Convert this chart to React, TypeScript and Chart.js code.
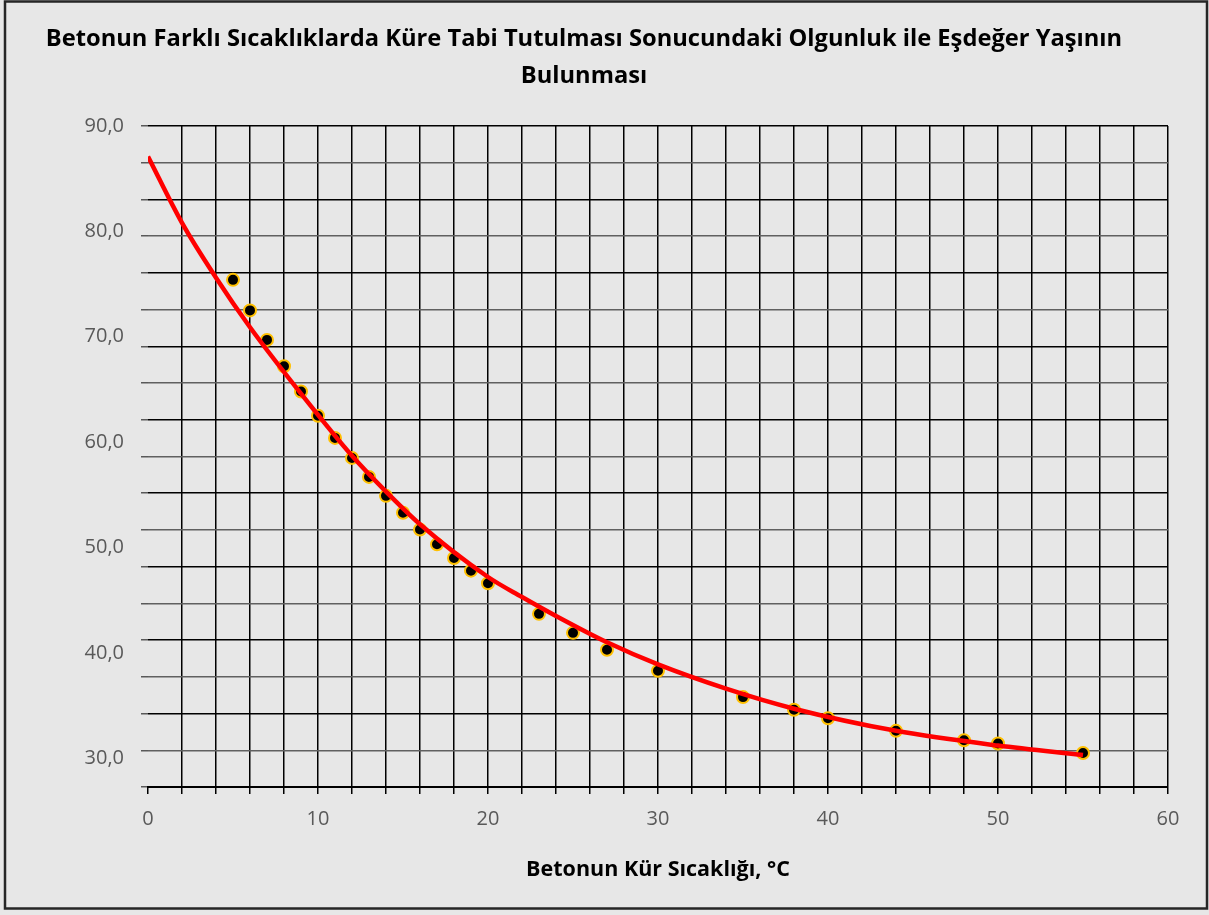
import React, { useEffect, useRef } from "react";
import { Chart, registerables } from "chart.js";

Chart.register(...registerables);

// Measured points (x: curing temperature °C, y: equivalent age / maturity)
const pointTemps = [5, 6, 7, 8, 9, 10, 11, 12, 13, 14, 15, 16, 17, 18, 19, 20, 23, 25, 27, 30, 35, 38, 40, 44, 48, 50, 55];
const pointValues = [75.4, 72.5, 69.7, 67.2, 64.8, 62.5, 60.4, 58.5, 56.7, 54.9, 53.3, 51.7, 50.3, 49.0, 47.8, 46.6, 43.7, 41.9, 40.3, 38.3, 35.8, 34.6, 33.8, 32.6, 31.7, 31.4, 30.5];

// Trend line
const trendTemps = [0, 2, 4, 6, 9, 12, 14, 16, 20, 22, 24, 27, 30, 34, 38, 44, 50, 55];
const trendValues = [87.1, 80.8, 75.6, 70.9, 64.6, 58.7, 55.3, 52.2, 47.2, 45.3, 43.5, 41.0, 38.9, 36.6, 34.7, 32.6, 31.2, 30.3];

// Axis labels
const yTickLabels = [30, 40, 50, 60, 70, 80, 90];
const xTickLabels = [0, 10, 20, 30, 40, 50, 60];

const titleLines = [
  "Betonun Farklı Sıcaklıklarda Küre Tabi Tutulması Sonucundaki Olgunluk ile Eşdeğer Yaşının",
  "Bulunması",
];
const xTitle = "Betonun Kür Sıcaklığı, °C";

const Y_MIN = 27.27;
const Y_MAX = 90;
const Y_GRID_INTERVALS = 18;
const FONT = "'Open Sans', 'Noto Sans', sans-serif";

const backgroundPlugin = {
  id: "bgBorder",
  beforeDraw(chart: any) {
    const { ctx, width, height } = chart;
    ctx.save();
    ctx.fillStyle = "#e7e7e7";
    ctx.fillRect(0, 0, width, height);
    ctx.strokeStyle = "#262626";
    ctx.lineWidth = 2.5;
    ctx.strokeRect(5, 1.5, width - 7, height - 8);
    ctx.restore();
  },
};

export default function App() {
  const ref = useRef<HTMLCanvasElement | null>(null);

  useEffect(() => {
    document.body.style.margin = "0";
    const canvas = ref.current!;
    const step = (Y_MAX - Y_MIN) / Y_GRID_INTERVALS;

    const chart = new Chart(canvas, {
      type: "scatter",
      data: {
        datasets: [
          {
            type: "line",
            label: "Trend",
            data: trendTemps.map((x, i) => ({ x, y: trendValues[i] })),
            borderColor: "#ff0000",
            borderWidth: 4.5,
            pointRadius: 0,
            fill: false,
            cubicInterpolationMode: "monotone",
            order: 1,
          } as any,
          {
            type: "scatter",
            label: "Veri",
            data: pointTemps.map((x, i) => ({ x, y: pointValues[i] })),
            pointRadius: 6,
            pointBackgroundColor: "#000000",
            pointBorderColor: "#ffc000",
            pointBorderWidth: 2,
            showLine: false,
            order: 2,
          } as any,
        ],
      },
      options: {
        animation: false,
        responsive: false,
        devicePixelRatio: 1,
        layout: { padding: { left: 0, right: 41, top: 0, bottom: 0 } },
        plugins: {
          legend: { display: false },
          tooltip: { enabled: false },
          title: {
            display: true,
            text: titleLines,
            color: "#000000",
            font: { family: FONT, size: 23.7, weight: "bold", lineHeight: 37 / 23.7 },
            padding: { top: 21, bottom: 31 },
          },
        },
        scales: {
          x: {
            type: "linear",
            min: 0,
            max: 60,
            afterFit: (s: any) => {
              s.height = 128;
            },
            afterBuildTicks: (axis: any) => {
              const t: any[] = [];
              for (let v = 0; v <= 60; v += 2) t.push({ value: v, isLabel: xTickLabels.includes(v) });
              axis.ticks = t;
            },
            ticks: {
              autoSkip: false,
              maxRotation: 0,
              padding: 13,
              color: "#595959",
              font: { family: FONT, size: 20 },
              callback: (v: any, i: number, ticks: any[]) => (ticks[i].isLabel ? String(v) : ""),
            },
            grid: {
              color: (ctx: any) => (ctx.tick && ctx.tick.value === 0 ? "rgba(0,0,0,0)" : "#000000"),
              lineWidth: 1.5,
              tickColor: "#000000",
              tickLength: 7,
            },
            border: { display: true, color: "#000000", width: 2 },
            title: {
              display: true,
              text: xTitle,
              color: "#000000",
              font: { family: FONT, size: 21.5, weight: "bold" },
              padding: { top: 0, bottom: 32 },
            },
          },
          y: {
            type: "linear",
            min: Y_MIN,
            max: Y_MAX,
            afterFit: (s: any) => {
              s.width = 148;
            },
            afterBuildTicks: (axis: any) => {
              const t: any[] = [];
              for (let i = 0; i <= Y_GRID_INTERVALS; i++) {
                const value = i === Y_GRID_INTERVALS ? Y_MAX : Y_MIN + i * step;
                t.push({
                  value,
                  isGrid: true,
                  major: (Y_GRID_INTERVALS - i) % 2 === 0,
                  isLabel: yTickLabels.includes(Math.round(value * 100) / 100),
                });
              }
              yTickLabels.forEach((v) => {
                if (!t.some((k) => Math.abs(k.value - v) < 1e-6)) t.push({ value: v, isGrid: false, isLabel: true });
              });
              t.sort((a, b) => a.value - b.value);
              axis.ticks = t;
            },
            ticks: {
              autoSkip: false,
              padding: 17,
              color: "#595959",
              font: { family: FONT, size: 20 },
              callback: (v: any, i: number, ticks: any[]) =>
                ticks[i].isLabel ? Number(v).toFixed(1).replace(".", ",") : "",
            },
            grid: {
              color: (ctx: any) => {
                const t = ctx.tick;
                if (!t || !t.isGrid) return "rgba(0,0,0,0)";
                return t.major ? "#000000" : "#606060";
              },
              lineWidth: (ctx: any) => (ctx.tick && ctx.tick.isGrid ? 1.5 : 0),
              tickColor: (ctx: any) => (ctx.tick && ctx.tick.isGrid ? "#595959" : "rgba(0,0,0,0)"),
              tickLength: 7,
            },
            border: { display: false },
          },
        },
      },
      plugins: [backgroundPlugin],
    });

    return () => chart.destroy();
  }, []);

  return (
    <div style={{ width: 1209, height: 915 }}>
      <canvas ref={ref} width={1209} height={915} style={{ display: "block", width: 1209, height: 915 }} />
    </div>
  );
}
